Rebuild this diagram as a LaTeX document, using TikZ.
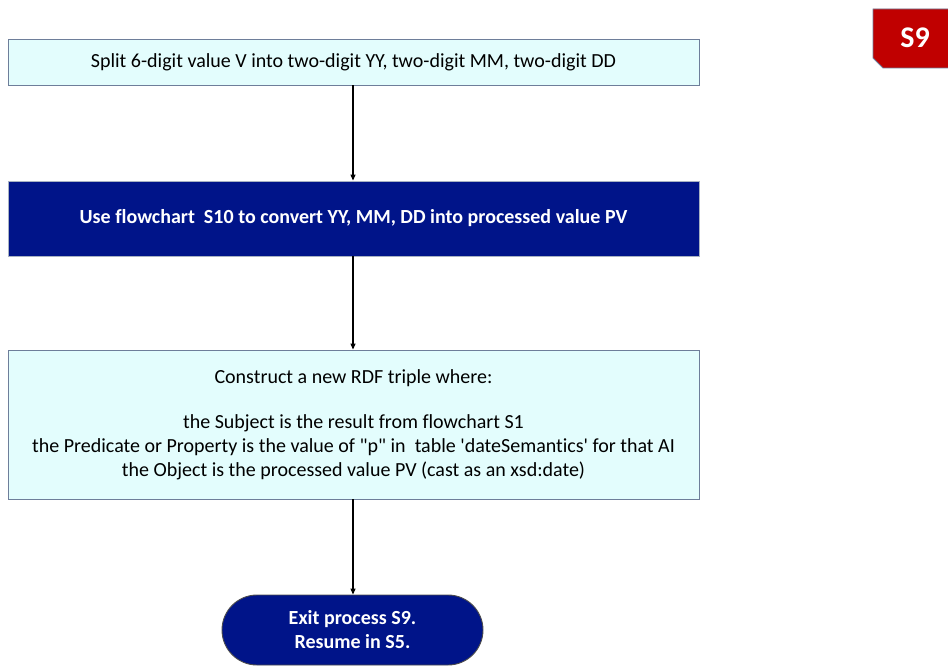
\documentclass[tikz,border=0pt]{standalone}
\usepackage{fontspec}
\setmainfont{Carlito}[Ligatures=NoCommon]
\usetikzlibrary{arrows.meta,shapes.misc}
\definecolor{paleCyan}{HTML}{E3FDFD}
\definecolor{deepBlue}{HTML}{001489}
\definecolor{edgeGray}{HTML}{6E7E9A}
\definecolor{badgeRed}{HTML}{C00000}
\tikzset{
  x=1pt, y=-1pt,
  lightbox/.style={draw=edgeGray, line width=0.9pt, fill=paleCyan, inner sep=0pt,
    font=\fontsize{20}{24}\selectfont, align=center},
  darkbox/.style={draw=edgeGray!60, line width=0.9pt, fill=deepBlue, inner sep=0pt,
    text=white, font=\fontsize{20}{24}\selectfont\bfseries, align=center},
  flowarrow/.style={draw=black, line width=1.2pt, -{Triangle[length=6pt,width=5pt]}},
}
\begin{document}
\begin{tikzpicture}
\useasboundingbox (0,0) rectangle (948,666);
% process boxes
\node[lightbox, minimum width=691pt, minimum height=46pt] (split) at (353.5,62)
  {Split 6-digit value V into two-digit YY, two-digit MM, two-digit DD};
\node[darkbox, minimum width=691pt, minimum height=75pt] (convert) at (353.5,218.5)
  {Use flowchart\ \ S10 to convert YY, MM, DD into processed value PV};
\node[lightbox, minimum width=691pt, minimum height=149pt] (triple) at (353.5,424.5)
  {Construct a new RDF triple where:\\[21pt]
   the Subject is the result from flowchart S1\\
   the Predicate or Property is the value of \textquotedbl p\textquotedbl\ in\ \ table
   \textquotesingle dateSemantics\textquotesingle\ for that AI\\
   the Object is the processed value PV (cast as an xsd:date)};
% terminal
\node[darkbox, rounded rectangle, minimum width=261pt, minimum height=70pt,
  draw=black!70] (exit) at (352.5,630)
  {Exit process S9.\\Resume in S5.};
% connectors
\draw[flowarrow] (split.south -| 353,0) -- (convert.north -| 353,0);
\draw[flowarrow] (convert.south -| 353,0) -- (triple.north -| 353,0);
\draw[flowarrow] (triple.south -| 353,0) -- (exit.north -| 353,0);
% page badge with chamfered lower-left corner
\fill[badgeRed, draw=edgeGray, line width=0.9pt]
  (873,9) -- (950,9) -- (950,68) -- (883,68) -- (873,58) -- cycle;
\node[text=white, font=\fontsize{30}{34}\selectfont\bfseries] (badge) at (915,38) {S9};
\end{tikzpicture}
\end{document}
